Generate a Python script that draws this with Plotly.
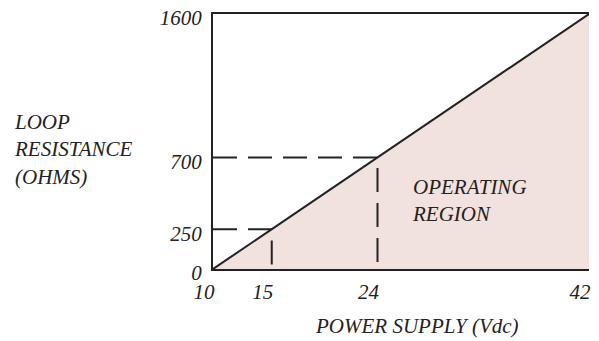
import plotly.graph_objects as go

# supply voltage (Vdc) vs. maximum loop resistance (ohms)
supply_v = [10, 42]
max_loop_r = [0, 1600]

# marked operating points
mark_v = [15, 24]
mark_r = [250, 700]

x_ticks = [10, 15, 24, 42]
y_ticks = [0, 250, 700, 1600]

ink = "#222222"
fill_col = "#f2e2de"
serif = dict(family="Liberation Serif", size=21, color=ink, style="italic")

fig = go.Figure()

fig.add_trace(
    go.Scatter(
        x=supply_v,
        y=max_loop_r,
        mode="lines",
        fill="tozeroy",
        fillcolor=fill_col,
        line=dict(color=ink, width=2),
        hoverinfo="skip",
    )
)

for v, r in zip(mark_v, mark_r):
    fig.add_trace(
        go.Scatter(
            x=[supply_v[0], v, v],
            y=[r, r, 0],
            mode="lines",
            line=dict(color=ink, width=2, dash="24px,11px"),
            hoverinfo="skip",
        )
    )

fig.add_annotation(
    text="LOOP<br>RESISTANCE<br>(OHMS)",
    xref="paper", yref="paper", x=-0.535, y=0.47,
    xanchor="left", yanchor="middle", align="left",
    showarrow=False, font=serif,
)
fig.add_annotation(
    text="POWER SUPPLY (Vdc)",
    xref="paper", yref="paper", x=0.543, y=-0.223,
    xanchor="center", yanchor="middle",
    showarrow=False, font=serif,
)
fig.add_annotation(
    text="OPERATING<br>REGION",
    xref="paper", yref="paper", x=0.524, y=0.267,
    xanchor="left", yanchor="middle", align="left",
    showarrow=False, font=serif,
)

fig.update_xaxes(
    range=[supply_v[0], supply_v[1]],
    tickvals=x_ticks,
    ticks="",
    showgrid=False,
    zeroline=False,
    showline=True,
    mirror=True,
    linecolor=ink,
    linewidth=2,
    tickfont=serif,
    ticklabelstandoff=3,
    ticklabelshift=-9,
    ticklabeloverflow="allow",
    automargin=False,
)
fig.update_yaxes(
    range=[max_loop_r[0], max_loop_r[1]],
    tickvals=y_ticks,
    ticks="",
    showgrid=False,
    zeroline=False,
    showline=True,
    linecolor=ink,
    linewidth=2,
    tickfont=serif,
    ticklabelstandoff=5,
    ticklabelshift=4,
    ticklabeloverflow="allow",
    automargin=False,
)

# the page body sits 8px in, so size and margins are trimmed to match the reference pixels
fig.update_layout(
    width=583,
    height=333,
    margin=dict(l=205, r=2, t=6, b=72),
    paper_bgcolor="white",
    plot_bgcolor="white",
    showlegend=False,
)

fig.write_html("out.html")
